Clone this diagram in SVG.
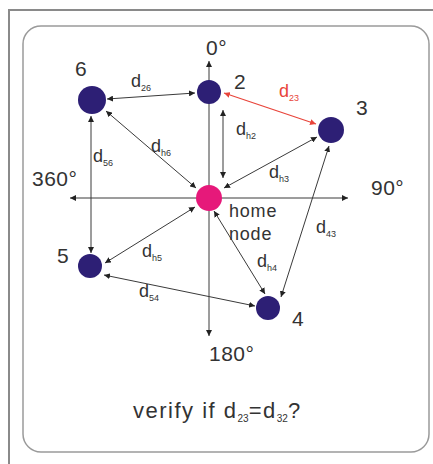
<svg xmlns="http://www.w3.org/2000/svg" width="433" height="464" viewBox="0 0 433 464">
<defs>
<marker id="ah" viewBox="0 0 10 10" refX="10" refY="5" markerWidth="6" markerHeight="6" orient="auto-start-reverse" markerUnits="userSpaceOnUse">
<path d="M0,0 L10,5 L0,10 z" fill="#222"/>
</marker>
<marker id="ahr" viewBox="0 0 10 10" refX="10" refY="5" markerWidth="6" markerHeight="6" orient="auto-start-reverse" markerUnits="userSpaceOnUse">
<path d="M0,0 L10,5 L0,10 z" fill="#e8443a"/>
</marker>
</defs>
<style>
.ln{stroke:#3a3a3a;stroke-width:1;fill:none;marker-start:url(#ah);marker-end:url(#ah)}
.red{stroke:#e8443a;stroke-width:1.2;fill:none;marker-start:url(#ahr);marker-end:url(#ahr)}
.t{font-family:"Liberation Sans",Arial,sans-serif;fill:#333}
.lab{font-size:21px;letter-spacing:0.5px}
.d{font-size:18px}
.s{font-size:9px}
.nd{fill:#2d1f75}
</style>
<rect x="0" y="0" width="433" height="464" fill="#fff"/>
<rect x="9" y="10" width="440" height="470" fill="none" stroke="#8a8a8a" stroke-width="2"/>
<rect x="23" y="26" width="406" height="426" rx="18" fill="#fff" stroke="#9a9a9a" stroke-width="1.5"/>

<g id="connectors">
<line class="ln" x1="70" y1="198" x2="348" y2="198"/>
<line class="ln" x1="209" y1="61" x2="209" y2="336"/>
<line class="ln" x1="107" y1="99" x2="195" y2="93"/>
<line class="red" x1="224" y1="93" x2="316" y2="124"/>
<line class="ln" x1="223" y1="110" x2="223" y2="178"/>
<line class="ln" x1="224" y1="188" x2="317" y2="137"/>
<line class="ln" x1="329" y1="146" x2="281" y2="297"/>
<line class="ln" x1="214" y1="211" x2="265" y2="294"/>
<line class="ln" x1="195" y1="207" x2="105" y2="263"/>
<line class="ln" x1="104" y1="275" x2="255" y2="306"/>
<line class="ln" x1="91" y1="116" x2="91" y2="253"/>
<line class="ln" x1="106" y1="111" x2="196" y2="188"/>
</g>

<g id="node-home"><circle cx="209" cy="198" r="13" fill="#e6197a"/>
<text class="t" x="229" y="217" font-size="18" letter-spacing="0.8">home</text>
<text class="t" x="229" y="240" font-size="18" letter-spacing="0.8">node</text></g>
<g id="node-2"><circle class="nd" cx="209" cy="92" r="12"/><text class="t lab" x="234" y="89">2</text></g>
<g id="node-6"><circle class="nd" cx="92" cy="100" r="14"/><text class="t lab" x="75" y="76">6</text></g>
<g id="node-3"><circle class="nd" cx="331" cy="130" r="13"/><text class="t lab" x="356" y="115">3</text></g>
<g id="node-5"><circle class="nd" cx="90" cy="266" r="12"/><text class="t lab" x="57" y="263">5</text></g>
<g id="node-4"><circle class="nd" cx="268" cy="308" r="12"/><text class="t lab" x="292" y="326">4</text></g>

<g id="labels">
<text class="t lab" x="206" y="55">0°</text>
<text class="t lab" x="32" y="186">360°</text>
<text class="t lab" x="371" y="195">90°</text>
<text class="t lab" x="209" y="361">180°</text>
<text class="t d" x="131" y="87">d<tspan class="s" dy="4">26</tspan></text>
<text class="t d" x="93" y="162">d<tspan class="s" dy="4">56</tspan></text>
<text class="t d" x="151" y="152">d<tspan class="s" dy="4">h6</tspan></text>
<text class="t d" x="279" y="97" style="fill:#e8443a">d<tspan class="s" dy="4">23</tspan></text>
<text class="t d" x="236" y="135">d<tspan class="s" dy="4">h2</tspan></text>
<text class="t d" x="269" y="178">d<tspan class="s" dy="4">h3</tspan></text>
<text class="t d" x="316" y="233">d<tspan class="s" dy="4">43</tspan></text>
<text class="t d" x="257" y="267">d<tspan class="s" dy="4">h4</tspan></text>
<text class="t d" x="142" y="257">d<tspan class="s" dy="4">h5</tspan></text>
<text class="t d" x="139" y="297">d<tspan class="s" dy="4">54</tspan></text>
<text class="t" x="133" y="418" font-size="22" letter-spacing="1.5">verify if d<tspan font-size="10" dy="4" letter-spacing="0">23</tspan><tspan dy="-4">=d</tspan><tspan font-size="10" dy="4" letter-spacing="0">32</tspan><tspan dy="-4">?</tspan></text>
</g>
</svg>
